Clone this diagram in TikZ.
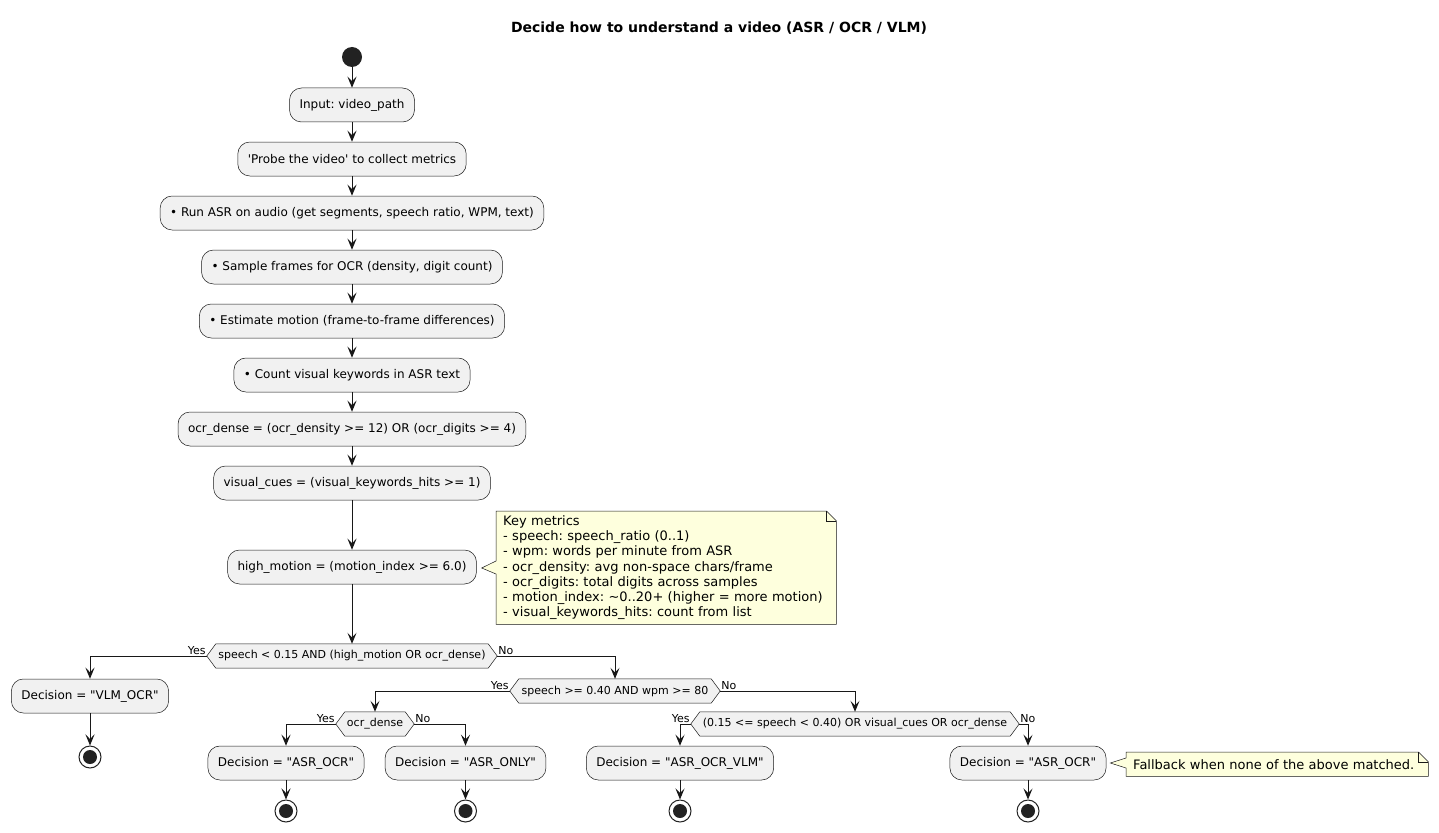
\documentclass[tikz,border=0pt]{standalone}
\usepackage{fontspec}
\setmainfont{DejaVu Sans}
\usetikzlibrary{arrows.meta,calc,backgrounds}
\definecolor{boxfill}{HTML}{F1F1F1}
\definecolor{linec}{HTML}{181818}
\definecolor{notefill}{HTML}{FEFFDD}
\definecolor{dotc}{HTML}{222222}
\newcommand\hexbg[1]{%
  \coordinate (#1w) at ($(#1.west)+(-9,0)$);
  \coordinate (#1e) at ($(#1.east)+(9,0)$);
  \begin{scope}[on background layer]
    \draw[hexa] (#1.north west) -- (#1.north east) -- (#1e) -- (#1.south east) -- (#1.south west) -- (#1w) -- cycle;
  \end{scope}}
\begin{document}
\frenchspacing
\begin{tikzpicture}[x=1pt,y=-1pt,
  act/.style={draw=linec,line width=0.5pt,fill=boxfill,rounded corners=12pt,minimum height=34pt,inner xsep=10pt,inner ysep=0pt,font=\fontsize{12}{14}\selectfont},
  cond/.style={minimum height=24pt,inner sep=0pt,font=\fontsize{11}{13}\selectfont},
  hexa/.style={draw=linec,line width=0.5pt,fill=boxfill},
  lbl/.style={font=\fontsize{11}{13}\selectfont,inner sep=1pt},
  flow/.style={draw=linec,line width=1pt,-{Stealth[length=11pt,width=9pt,inset=4.5pt]}},
  startdot/.style={circle,fill=dotc,minimum size=20pt,inner sep=0pt},
  enddot/.style={circle,draw=dotc,line width=1pt,fill=white,minimum size=22pt,inner sep=0pt,
    path picture={\fill[dotc] (path picture bounding box.center) circle (7pt);}},
  notetxt/.style={font=\fontsize{13}{15.2}\selectfont,inner xsep=7pt,inner ysep=0pt},
  noteline/.style={draw=linec,line width=0.5pt,fill=notefill},
]
\useasboundingbox (0,0) rectangle (1439,832);
\begin{scope}[on background layer]
  \fill[white] (0,0) rectangle (1439,832);
\end{scope}

\node[font=\bfseries\fontsize{14}{17}\selectfont] (title) at (719,28) {Decide how to understand a video (ASR / OCR / VLM)};

\node[startdot] (s) at (352,57) {};
\node[act] (b1) at (352,105) {Input: video\_path};
\node[act] (b2) at (352,159) {\textquotesingle Probe the video\textquotesingle{} to collect metrics};
\node[act] (b3) at (352,213) {• Run ASR on audio (get segments, speech ratio, WPM, text)};
\node[act] (b4) at (352,267) {• Sample frames for OCR (density, digit count)};
\node[act] (b5) at (352,321) {• Estimate motion (frame-to-frame differences)};
\node[act] (b6) at (352,375) {• Count visual keywords in ASR text};
\node[act] (b7) at (352,429) {ocr\_dense = (ocr\_density >= 12) OR (ocr\_digits >= 4)};
\node[act] (b8) at (352,483) {visual\_cues = (visual\_keywords\_hits >= 1)};
\node[act] (b9) at (352,567) {high\_motion = (motion\_index >= 6.0)};

% note 1
\node[notetxt,text width=326pt,align=left,minimum height=113pt,anchor=north west] (n1) at (496,511)
 {Key metrics\\
  - speech: speech\_ratio (0..1)\\
  - wpm: words per minute from ASR\\
  - ocr\_density: avg non-space chars/frame\\
  - ocr\_digits: total digits across samples\\
  - motion\_index: \textasciitilde0..20+ (higher = more motion)\\
  - visual\_keywords\_hits: count from list};
\begin{scope}[on background layer]
  \draw[noteline] (n1.north west) -- ($(n1.north east)+(-10,0)$) -- ($(n1.north east)+(0,10)$) -- (n1.south east) -- (n1.south west)
    -- ($(n1.west|-b9.east)+(0,7)$) -- ($(b9.east)+(5,1)$) -- ($(n1.west|-b9.east)+(0,-6)$) -- cycle;
  \draw[draw=linec,line width=0.5pt] ($(n1.north east)+(-10,0)$) -- ($(n1.north east)+(-10,10)$) -- ($(n1.north east)+(0,10)$);
\end{scope}

% decisions
\node[cond,minimum width=272pt] (d1) at (352,656) {speech < 0.15 AND (high\_motion OR ocr\_dense)};
\hexbg{d1}
\node[cond,minimum width=192pt] (d2) at (615,691) {speech >= 0.40 AND wpm >= 80};
\hexbg{d2}
\node[cond,minimum width=60pt] (d3) at (375,724) {ocr\_dense};
\hexbg{d3}
\node[cond,minimum width=310pt] (d4) at (855,724) {(0.15 <= speech < 0.40) OR visual\_cues OR ocr\_dense};
\hexbg{d4}

\node[act] (r1) at (90,696) {Decision = \textquotedbl VLM\_OCR\textquotedbl};
\node[act] (r2) at (286,763) {Decision = \textquotedbl ASR\_OCR\textquotedbl};
\node[act] (r3) at (465.5,763) {Decision = \textquotedbl ASR\_ONLY\textquotedbl};
\node[act] (r4) at (680,763) {Decision = \textquotedbl ASR\_OCR\_VLM\textquotedbl};
\node[act] (r5) at (1028,763) {Decision = \textquotedbl ASR\_OCR\textquotedbl};

\node[enddot] (e1) at (90,757) {};
\node[enddot] (e2) at (286,811) {};
\node[enddot] (e3) at (465.5,811) {};
\node[enddot] (e4) at (680,811) {};
\node[enddot] (e5) at (1028,811) {};

% note 2
\node[notetxt,text width=288pt,align=left,minimum height=24pt,anchor=north west] (n2) at (1126,752) {Fallback when none of the above matched.};
\begin{scope}[on background layer]
  \draw[noteline] (n2.north west) -- ($(n2.north east)+(-10,0)$) -- ($(n2.north east)+(0,10)$) -- (n2.south east) -- (n2.south west)
    -- ($(n2.west|-r5.east)+(0,5)$) -- ($(r5.east)+(4,0)$) -- ($(n2.west|-r5.east)+(0,-5)$) -- cycle;
  \draw[draw=linec,line width=0.5pt] ($(n2.north east)+(-10,0)$) -- ($(n2.north east)+(-10,10)$) -- ($(n2.north east)+(0,10)$);
\end{scope}

% flow
\draw[flow] (s) -- (b1);
\draw[flow] (b1) -- (b2);
\draw[flow] (b2) -- (b3);
\draw[flow] (b3) -- (b4);
\draw[flow] (b4) -- (b5);
\draw[flow] (b5) -- (b6);
\draw[flow] (b6) -- (b7);
\draw[flow] (b7) -- (b8);
\draw[flow] (b8) -- (b9);
\draw[flow] (b9) -- (d1.north);

\draw[flow] (d1w) -| (r1.north);
\node[lbl,anchor=south east] (y1) at (d1w) {Yes};
\draw[flow] (d1e) -| (d2.north);
\node[lbl,anchor=south west] (no1) at (d1e) {No};

\draw[flow] (d2w) -| (d3.north);
\node[lbl,anchor=south east] (y2) at (d2w) {Yes};
\draw[flow] (d2e) -| (d4.north);
\node[lbl,anchor=south west] (no2) at (d2e) {No};

\draw[flow] (d3w) -| (r2.north);
\node[lbl,anchor=south east] (y3) at (d3w) {Yes};
\draw[flow] (d3e) -| (r3.north);
\node[lbl,anchor=south west] (no3) at (d3e) {No};

\draw[flow] (d4w) -| (r4.north);
\node[lbl,anchor=south east] (y4) at (d4w) {Yes};
\draw[flow] (d4e) -| (r5.north);
\node[lbl,anchor=south west] (no4) at (d4e) {No};

\draw[flow] (r1) -- (e1);
\draw[flow] (r2) -- (e2);
\draw[flow] (r3) -- (e3);
\draw[flow] (r4) -- (e4);
\draw[flow] (r5) -- (e5);
\end{tikzpicture}
\end{document}
